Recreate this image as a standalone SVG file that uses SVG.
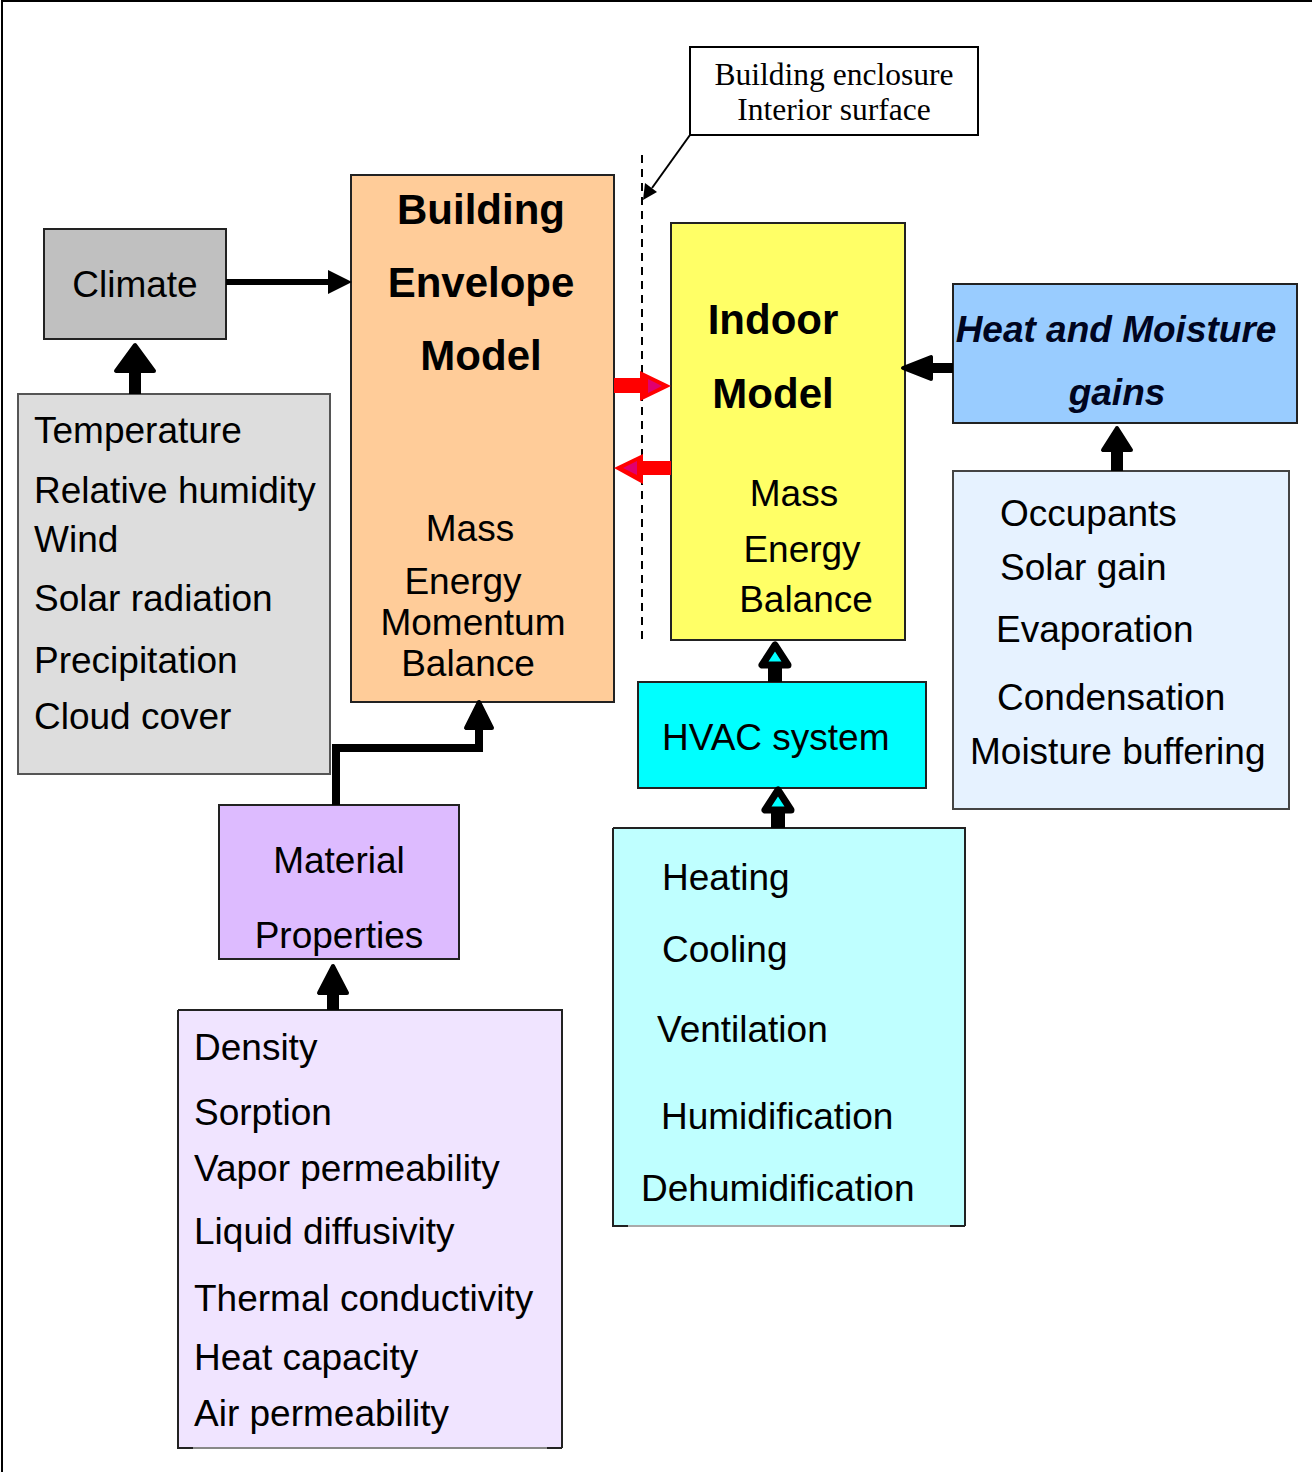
<svg xmlns="http://www.w3.org/2000/svg" width="1312" height="1472" viewBox="0 0 1312 1472">
<style>
text{font-family:"Liberation Sans",Arial,sans-serif;font-size:37px;fill:#000}
.b{font-weight:bold;font-size:42px}
.c{text-anchor:middle}
.box{stroke:#222;stroke-width:2}
.blk{fill:#000;stroke:#000;stroke-width:4;stroke-linejoin:round}
.tnr{font-family:"Liberation Serif","Times New Roman",serif;font-size:31.5px}
</style>
<rect x="2" y="1" width="1330" height="1490" fill="#fff" stroke="#000" stroke-width="2"/>

<g id="climate">
<rect class="box" x="44" y="229" width="182" height="110" fill="#C0C0C0"/>
<text class="c" x="135" y="297">Climate</text>
</g>
<g id="climate-params">
<rect x="18" y="394" width="312" height="380" fill="#DDDDDD" stroke="#555" stroke-width="2"/>
<text x="34" y="443">Temperature</text>
<text x="34" y="503">Relative humidity</text>
<text x="34" y="552">Wind</text>
<text x="34" y="611">Solar radiation</text>
<text x="34" y="673">Precipitation</text>
<text x="34" y="729">Cloud cover</text>
</g>
<g id="envelope">
<rect class="box" x="351" y="175" width="263" height="527" fill="#FFCC99"/>
<text class="b c" x="481" y="224">Building</text>
<text class="b c" x="481" y="297">Envelope</text>
<text class="b c" x="481" y="370">Model</text>
<text class="c" x="470" y="541">Mass</text>
<text class="c" x="463" y="594">Energy</text>
<text class="c" x="473" y="635">Momentum</text>
<text class="c" x="468" y="676">Balance</text>
</g>
<g id="indoor">
<rect class="box" x="671" y="223" width="234" height="417" fill="#FFFF66"/>
<text class="b c" x="773" y="334">Indoor</text>
<text class="b c" x="773" y="408">Model</text>
<text class="c" x="794" y="506">Mass</text>
<text class="c" x="802" y="562">Energy</text>
<text class="c" x="806" y="612">Balance</text>
</g>
<g id="gains">
<rect class="box" x="953" y="284" width="344" height="139" fill="#99CCFF"/>
<text class="b c" x="1116" y="342" style="font-style:italic;font-size:37px;fill:#000520">Heat and Moisture</text>
<text class="b c" x="1117" y="405" style="font-style:italic;font-size:37px;fill:#000520">gains</text>
</g>
<g id="gain-sources">
<rect x="953" y="471" width="336" height="338" fill="#E6F2FF" stroke="#444" stroke-width="2"/>
<text x="1000" y="526">Occupants</text>
<text x="1000" y="580">Solar gain</text>
<text x="996" y="642">Evaporation</text>
<text x="997" y="710">Condensation</text>
<text x="970" y="764">Moisture buffering</text>
</g>
<g id="hvac">
<rect class="box" x="638" y="682" width="288" height="106" fill="#00FFFF"/>
<text x="662" y="750">HVAC system</text>
</g>
<g id="hvac-functions">
<rect x="613" y="828" width="352" height="398" fill="#BFFFFF" stroke="none"/>
<path d="M613,828H965V1226M613,828V1226H628M950,1226H965" fill="none" stroke="#222" stroke-width="2"/>
<path d="M628,1226H950" stroke="#aaa" stroke-width="2"/>
<text x="662" y="890">Heating</text>
<text x="662" y="962">Cooling</text>
<text x="657" y="1042">Ventilation</text>
<text x="661" y="1129">Humidification</text>
<text x="641" y="1201">Dehumidification</text>
</g>
<g id="material">
<rect class="box" x="219" y="805" width="240" height="154" fill="#DDBBFF"/>
<text class="c" x="339" y="873">Material</text>
<text class="c" x="339" y="948">Properties</text>
</g>
<g id="material-params">
<rect x="178" y="1010" width="384" height="438" fill="#F0E4FF" stroke="none"/>
<path d="M178,1010H562V1448M178,1010V1448H193M547,1448H562" fill="none" stroke="#222" stroke-width="2"/>
<path d="M193,1448H547" stroke="#888" stroke-width="2"/>
<text x="194" y="1060">Density</text>
<text x="194" y="1125">Sorption</text>
<text x="194" y="1181">Vapor permeability</text>
<text x="194" y="1244">Liquid diffusivity</text>
<text x="194" y="1311">Thermal conductivity</text>
<text x="194" y="1370">Heat capacity</text>
<text x="194" y="1426">Air permeability</text>
</g>
<g id="callout">
<rect x="690" y="47" width="288" height="88" fill="#fff" stroke="#000" stroke-width="2"/>
<text class="tnr c" x="834" y="85">Building enclosure</text>
<text class="tnr c" x="834" y="120">Interior surface</text>
</g>

<g id="connectors">
<line x1="642" y1="155" x2="642" y2="640" stroke="#000" stroke-width="2" stroke-dasharray="8,6"/>
<line x1="690" y1="135" x2="652" y2="188" stroke="#000" stroke-width="2"/>
<polygon points="643,200 645,183 657,192" fill="#000"/>
<!-- climate -> envelope -->
<rect x="226" y="279" width="104" height="6" fill="#000"/>
<polygon points="352,282 328,270 328,294" fill="#000"/>
<!-- params -> climate -->
<rect x="129" y="370" width="12" height="24" fill="#000"/>
<polygon class="blk" points="135,345 116,371 154,371"/>
<!-- red arrows -->
<rect x="614" y="378" width="30" height="15" fill="#FF0000"/>
<polygon points="671,386 640,371 640,401" fill="#FF0000"/>
<polygon points="662,386 648,379 648,393" fill="#E0006F"/>
<rect x="640" y="461" width="31" height="14" fill="#FF0000"/>
<polygon points="614,468 643,454 643,484" fill="#FF0000"/>
<polygon points="623,468 637,461 637,475" fill="#E0006F"/>
<!-- gains -> indoor -->
<rect x="925" y="363" width="28" height="10" fill="#000"/>
<polygon class="blk" points="903,368 931,357 931,379"/>
<!-- sources -> gains -->
<rect x="1111" y="450" width="12" height="21" fill="#000"/>
<polygon class="blk" points="1117,428 1103,450 1131,450"/>
<!-- hvac -> indoor -->
<rect x="768" y="664" width="14" height="18" fill="#000"/>
<polygon points="775,645 762,665 788,665" fill="#00FFFF" stroke="#000" stroke-width="7" stroke-linejoin="round"/>
<!-- functions -> hvac -->
<rect x="771" y="808" width="14" height="20" fill="#000"/>
<polygon points="778,790 765,810 791,810" fill="#00FFFF" stroke="#000" stroke-width="7" stroke-linejoin="round"/>
<!-- material -> envelope -->
<polyline points="336,805 336,748 479,748 479,728" fill="none" stroke="#000" stroke-width="8"/>
<polygon class="blk" points="479,702 466,728 492,728"/>
<!-- material params -> material -->
<rect x="327" y="993" width="12" height="17" fill="#000"/>
<polygon class="blk" points="333,966 319,993 347,993"/>
</g>
</svg>
